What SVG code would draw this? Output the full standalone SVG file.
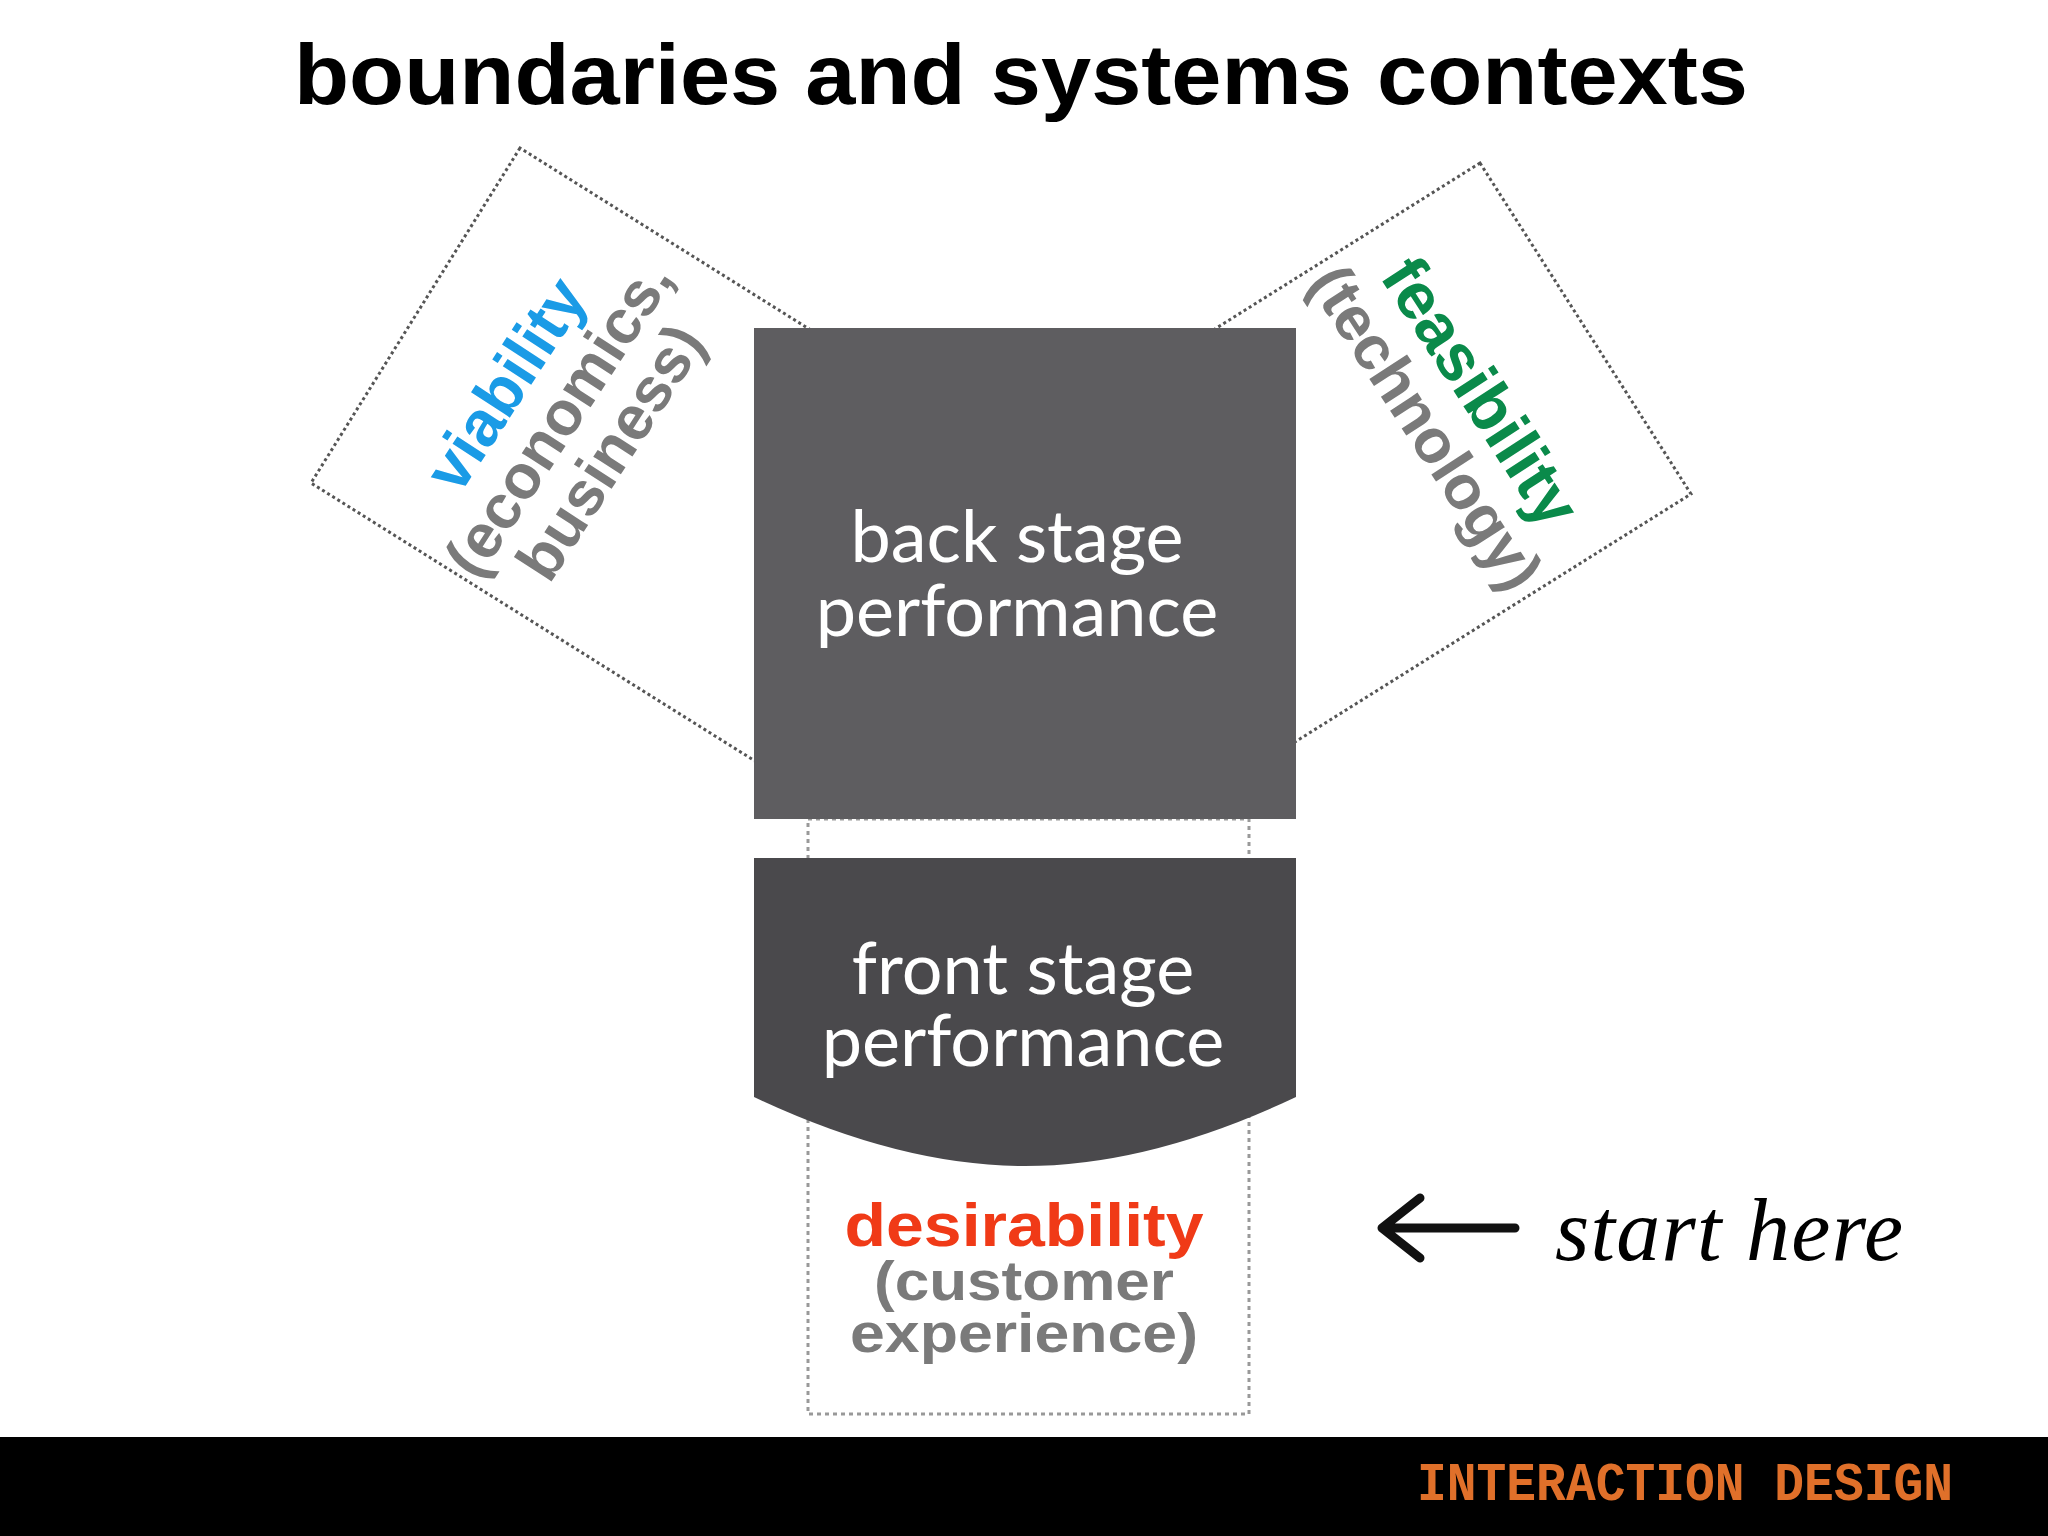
<svg xmlns="http://www.w3.org/2000/svg" width="2048" height="1536" viewBox="0 0 2048 1536">
<style>
.dot{fill:none;stroke:#555;stroke-width:3;stroke-dasharray:3 3}
.dotg{fill:none;stroke:#999;stroke-width:3;stroke-dasharray:4 4}
.hv{font-family:"Liberation Sans",Arial,sans-serif;font-weight:bold;text-anchor:middle}
.st{font-family:Lato,"Open Sans",sans-serif;fill:#fff;font-size:72px;text-anchor:middle}
.sub{fill:#7a7a7a}
</style>
<rect width="2048" height="1536" fill="#fff"/>
<text x="1021" y="104" class="hv" font-size="86" textLength="1454" lengthAdjust="spacingAndGlyphs" fill="#000">boundaries and systems contexts</text>
<g id="viability">
<polygon class="dot" points="520,148 311,483 755,761 964,426"/>
<g transform="translate(524,396) rotate(-57)">
<text class="hv" font-size="64" fill="#1a9be6" y="0">viability</text>
<text class="hv sub" font-size="62" y="62">(economics,</text>
<text class="hv sub" font-size="62" y="124">business)</text>
</g>
</g>
<g id="feasibility">
<polygon class="dot" points="1480,163 1691,494 1247,772 1036,441"/>
<g transform="translate(1462,404) rotate(57)">
<text class="hv" font-size="66" fill="#0a8a4a" y="0">feasibility</text>
<text class="hv sub" font-size="62" y="64">(technology)</text>
</g>
</g>
<g id="desirability">
<rect class="dotg" x="808" y="819" width="441" height="595"/>
<text class="hv" x="1024" y="1246" font-size="62" textLength="359" lengthAdjust="spacingAndGlyphs" fill="#f03a17">desirability</text>
<text class="hv sub" x="1024" y="1300" font-size="56" textLength="300" lengthAdjust="spacingAndGlyphs">(customer</text>
<text class="hv sub" x="1024" y="1352" font-size="56" textLength="348" lengthAdjust="spacingAndGlyphs">experience)</text>
</g>
<g id="back">
<rect x="754" y="328" width="542" height="491" fill="#5e5d60"/>
<text class="st" x="1017" y="562">back stage</text>
<text class="st" x="1017" y="636">performance</text>
</g>
<g id="front">
<path d="M754,858 H1296 V1097 Q1150,1166 1025,1166 Q900,1166 754,1097 Z" fill="#4a494c"/>
<text class="st" x="1023" y="994">front stage</text>
<text class="st" x="1023" y="1066">performance</text>
</g>
<g id="connectors">
<path d="M1515,1228 H1385 M1420,1198 L1382,1228 L1420,1258" fill="none" stroke="#111" stroke-width="9" stroke-linecap="round" stroke-linejoin="round"/>
</g>
<text x="1555" y="1260" font-family="Liberation Serif,serif" font-style="italic" font-size="88" textLength="348" fill="#000">start here</text>
<rect y="1437" width="2048" height="99" fill="#000"/>
<text x="1417" y="1500" font-family="Liberation Mono,monospace" font-weight="bold" font-size="54" textLength="536" lengthAdjust="spacingAndGlyphs" fill="#e0702a">INTERACTION DESIGN</text>
</svg>
